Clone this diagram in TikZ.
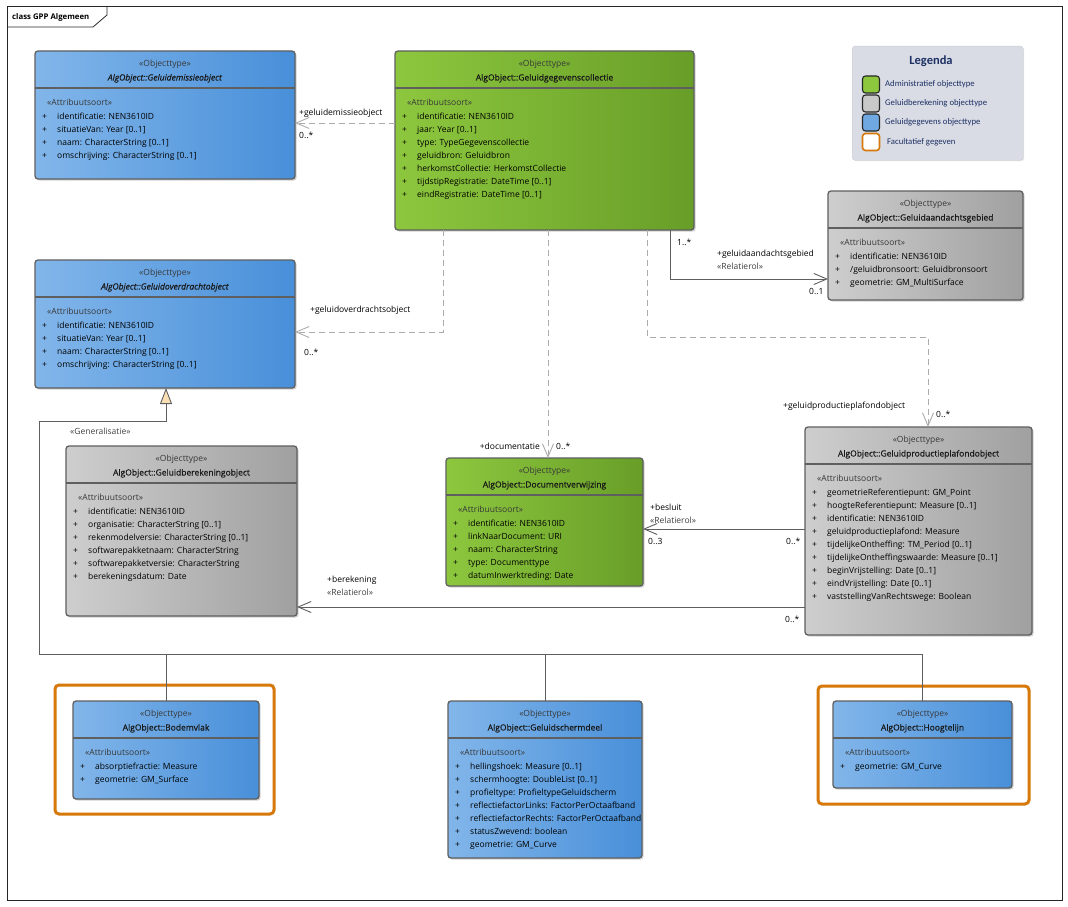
\documentclass[tikz,border=0pt]{standalone}
\usepackage{fontspec}
\setmainfont{Open Sans}
\newfontfamily\semib[FakeBold=0.5]{Open Sans}
\newfontfamily\legfont{Carlito}
\usetikzlibrary{arrows.meta,shadows,calc}

\definecolor{blueL}{RGB}{130,182,234}
\definecolor{blueR}{RGB}{72,143,217}
\definecolor{greenL}{RGB}{141,199,62}
\definecolor{greenR}{RGB}{104,158,40}
\definecolor{grayL}{RGB}{206,206,206}
\definecolor{grayR}{RGB}{160,160,160}
\definecolor{boxline}{RGB}{95,95,95}
\definecolor{depgray}{RGB}{172,172,172}
\definecolor{assoc}{RGB}{95,95,95}
\definecolor{orangeF}{RGB}{214,121,10}
\definecolor{legbg}{RGB}{218,220,229}
\definecolor{legborder}{RGB}{200,202,212}
\definecolor{legtxt}{RGB}{28,48,100}
\definecolor{genfill}{RGB}{250,222,180}
\definecolor{legsqgray}{RGB}{200,200,200}
\definecolor{legsqblue}{RGB}{112,168,226}

\newcommand\umlfont{\fontsize{8.5}{13}\selectfont}

\tikzset{
  cls/.style={draw=boxline, line width=1.3pt, rounded corners=3pt, inner sep=0pt, outer sep=0pt,
    drop shadow={shadow xshift=1.6pt, shadow yshift=-1.6pt, fill=black!45, opacity=0.4}},
  blueshade/.style={left color=blueL, right color=blueR},
  greenshade/.style={left color=greenL, right color=greenR},
  grayshade/.style={left color=grayL, right color=grayR},
  divider/.style={draw=boxline, line width=1.3pt},
  stereo/.style={font=\umlfont, text=black!78, inner sep=0pt, anchor=base},
  cname/.style={font=\umlfont\semib, text=black!90, inner sep=0pt, anchor=base},
  attr/.style={font=\umlfont, text=black, inner sep=0pt, anchor=base west},
  lbl/.style={font=\umlfont, text=black, inner sep=0pt, anchor=base west},
  lblst/.style={font=\umlfont, text=black!75, inner sep=0pt, anchor=base west},
  dep/.style={draw=depgray, dash pattern=on 6pt off 4pt, line width=0.9pt,
    -{Straight Barb[length=13pt,width=11pt,line width=0.9pt]}},
  asc/.style={draw=assoc, line width=0.9pt,
    -{Straight Barb[length=13pt,width=11pt,line width=0.9pt]}},
  genl/.style={draw=assoc, line width=0.9pt},
  facult/.style={draw=orangeF, line width=3pt, rounded corners=4pt},
  legsq/.style={draw=black!85, line width=1.1pt, rounded corners=3pt, minimum size=17pt, inner sep=0pt},
  legtext/.style={font=\legfont\fontsize{8.7}{10}\selectfont, text=legtxt, inner sep=0pt, anchor=west},
}

% #1 name, #2 shade, #3 left x, #4 top y, #5 width, #6 height, #7 title, #8 attributes
\newcommand\umlbox[8]{%
  \node[cls,#2,minimum width=#5pt,minimum height=#6pt,anchor=north west] (#1) at (#3,#4) {};
  \draw[divider] ([yshift=-37pt]#1.north west) -- ([yshift=-37pt]#1.north east);
  \node[stereo] (#1-st) at ([yshift=-15.5pt]#1.north) {«Objecttype»};
  \node[cname] (#1-nm) at ([yshift=-29.5pt]#1.north) {#7};
  \node[stereo, anchor=base west] (#1-as) at ([xshift=12pt,yshift=-54.5pt]#1.north west) {«Attribuutsoort»};
  \foreach \t [count=\i] in {#8} {
    \node[attr] (#1-p\i) at ([xshift=7pt,yshift={-(68.5+13*(\i-1))*1pt}]#1.north west) {+};
    \node[attr] (#1-a\i) at ([xshift=22pt,yshift={-(68.5+13*(\i-1))*1pt}]#1.north west) {\t};
  }
}

\begin{document}
\begin{tikzpicture}[x=1pt,y=-1pt]
\useasboundingbox (0,0) rectangle (1068,907);
\fill[white] (0,0) rectangle (1068,907);

% frame
\draw[line width=0.8pt, black!85] (7,6) rectangle (1062,900);
\draw[line width=0.8pt, black!85] (7,27) -- (93,27) -- (107,15) -- (107,6);
\node[font=\fontsize{7.8}{9}\selectfont\bfseries, anchor=base west, inner sep=0pt] (frametitle) at (12,20) {class GPP Algemeen};

% legend
\node[draw=legborder, fill=legbg, rounded corners=3pt, minimum width=171pt, minimum height=114pt,
      anchor=north west, inner sep=0pt,
      drop shadow={shadow xshift=1pt, shadow yshift=-1pt, fill=black!30, opacity=0.3}] (leg) at (852,46) {};
\node[font=\legfont\bfseries\fontsize{12.5}{14}\selectfont, text=legtxt, inner sep=0pt] (legT) at (931,61) {Legenda};
\node[legsq, fill=greenL] (lsq1) at (871,84.5) {};
\node[legsq, fill=legsqgray] (lsq2) at (871,103.5) {};
\node[legsq, fill=legsqblue] (lsq3) at (871,122.5) {};
\node[legsq, fill=white, draw=orangeF, line width=1.6pt] (lsq4) at (871,142) {};
\node[legtext] (lt1) at (885,84) {Administratief objecttype};
\node[legtext] (lt2) at (885,103) {Geluidberekening objecttype};
\node[legtext] (lt3) at (885,122) {Geluidgegevens objecttype};
\node[legtext] (lt4) at (887,142.5) {Facultatief gegeven};

% facultative frames
\draw[facult] (55,685) rectangle (274,814);
\draw[facult] (818,686) rectangle (1029,804);

% classes
\umlbox{emis}{blueshade}{35}{51}{260}{128}{\textit{AlgObject::Geluidemissieobject}}%
  {{identificatie: NEN3610ID},{situatieVan: Year [0..1]},{naam: CharacterString [0..1]},{omschrijving: CharacterString [0..1]}}

\umlbox{coll}{greenshade}{395}{51}{299}{179}{AlgObject::Geluidgegevenscollectie}%
  {{identificatie: NEN3610ID},{jaar: Year [0..1]},{type: TypeGegevenscollectie},{geluidbron: Geluidbron},{herkomstCollectie: HerkomstCollectie},{tijdstipRegistratie: DateTime [0..1]},{eindRegistratie: DateTime [0..1]}}

\umlbox{aand}{grayshade}{828}{191}{195}{109}{AlgObject::Geluidaandachtsgebied}%
  {{identificatie: NEN3610ID},{/geluidbronsoort: Geluidbronsoort},{geometrie: GM\_MultiSurface}}

\umlbox{over}{blueshade}{35}{260}{260}{128}{\textit{AlgObject::Geluidoverdrachtobject}}%
  {{identificatie: NEN3610ID},{situatieVan: Year [0..1]},{naam: CharacterString [0..1]},{omschrijving: CharacterString [0..1]}}

\umlbox{bere}{grayshade}{66}{446}{231}{170}{AlgObject::Geluidberekeningobject}%
  {{identificatie: NEN3610ID},{organisatie: CharacterString [0..1]},{rekenmodelversie: CharacterString [0..1]},{softwarepakketnaam: CharacterString},{softwarepakketversie: CharacterString},{berekeningsdatum: Date}}

\umlbox{doc}{greenshade}{446}{458}{197}{128}{AlgObject::Documentverwijzing}%
  {{identificatie: NEN3610ID},{linkNaarDocument: URI},{naam: CharacterString},{type: Documenttype},{datumInwerktreding: Date}}

\umlbox{plaf}{grayshade}{805}{427}{227}{208}{AlgObject::Geluidproductieplafondobject}%
  {{geometrieReferentiepunt: GM\_Point},{hoogteReferentiepunt: Measure [0..1]},{identificatie: NEN3610ID},{geluidproductieplafond: Measure},{tijdelijkeOntheffing: TM\_Period [0..1]},{tijdelijkeOntheffingswaarde: Measure [0..1]},{beginVrijstelling: Date [0..1]},{eindVrijstelling: Date [0..1]},{vaststellingVanRechtswege: Boolean}}

\umlbox{bodem}{blueshade}{73}{701}{186}{98}{AlgObject::Bodemvlak}%
  {{absorptiefractie: Measure},{geometrie: GM\_Surface}}

\umlbox{scherm}{blueshade}{448}{701}{194}{157}{AlgObject::Geluidschermdeel}%
  {{hellingshoek: Measure [0..1]},{schermhoogte: DoubleList [0..1]},{profieltype: ProfieltypeGeluidscherm},{reflectiefactorLinks: FactorPerOctaafband},{reflectiefactorRechts: FactorPerOctaafband},{statusZwevend: boolean},{geometrie: GM\_Curve}}

\umlbox{hoog}{blueshade}{833}{701}{179}{87}{AlgObject::Hoogtelijn}%
  {{geometrie: GM\_Curve}}

% dependencies (dashed)
\draw[dep] ([yshift=-72pt]coll.north west) -- ([yshift=-72pt]emis.north east);
\draw[dep] ([xshift=48pt]coll.south west) |- ([yshift=-72pt]over.north east);
\draw[dep] ([xshift=153pt]coll.south west) -- ([xshift=153pt]coll.south west |- doc.north);
\draw[dep] ([xshift=252pt]coll.south west) -- ++(0,107) -| ([xshift=123pt]plaf.north west);

% associations
\draw[asc] ([xshift=275pt]coll.south west) |- ([yshift=-88pt]aand.north west);
\draw[asc] ([yshift=-102pt]plaf.north west) -- ([yshift=-102pt]plaf.north west -| doc.east);
\draw[asc] ([yshift=-180pt]plaf.north west) -- ([yshift=-180pt]plaf.north west -| bere.east);

% generalisation tree
\coordinate (busL) at (39,654);
\draw[genl] (bodem.north) -- (bodem.north |- busL);
\draw[genl] (scherm.north) -- (scherm.north |- busL);
\draw[genl, -{Triangle[length=16pt,width=12pt,open,fill=genfill]}] (hoog.north) |- (busL) -- ++(0,-233) -| ([xshift=131pt]over.south west);

% connector labels
\node[lbl] (l1) at (299,115) {+geluidemissieobject};
\node[lbl] (l2) at (299,138) {0..*};
\node[lbl] (l3) at (310,312) {+geluidoverdrachtsobject};
\node[lbl] (l4) at (304,355) {0..*};
\node[lbl, anchor=base east] (l5) at (540,449) {+documentatie};
\node[lbl] (l6) at (556,449) {0..*};
\node[lbl] (l7) at (677,245) {1..*};
\node[lbl] (l8) at (717,256) {+geluidaandachtsgebied};
\node[lblst] (l9) at (717,269) {«Relatierol»};
\node[lbl] (l10) at (809,294) {0..1};
\node[lbl] (l11) at (783,408) {+geluidproductieplafondobject};
\node[lbl] (l12) at (936,417) {0..*};
\node[lbl] (l13) at (650,510) {+besluit};
\node[lblst] (l14) at (650,523) {«Relatierol»};
\node[lbl] (l15) at (648,544) {0..3};
\node[lbl] (l16) at (786,544) {0..*};
\node[lbl] (l17) at (327,582) {+berekening};
\node[lblst] (l18) at (327,595) {«Relatierol»};
\node[lbl] (l19) at (785,622) {0..*};
\node[lblst] (l20) at (70,434) {«Generalisatie»};
\end{tikzpicture}
\end{document}
